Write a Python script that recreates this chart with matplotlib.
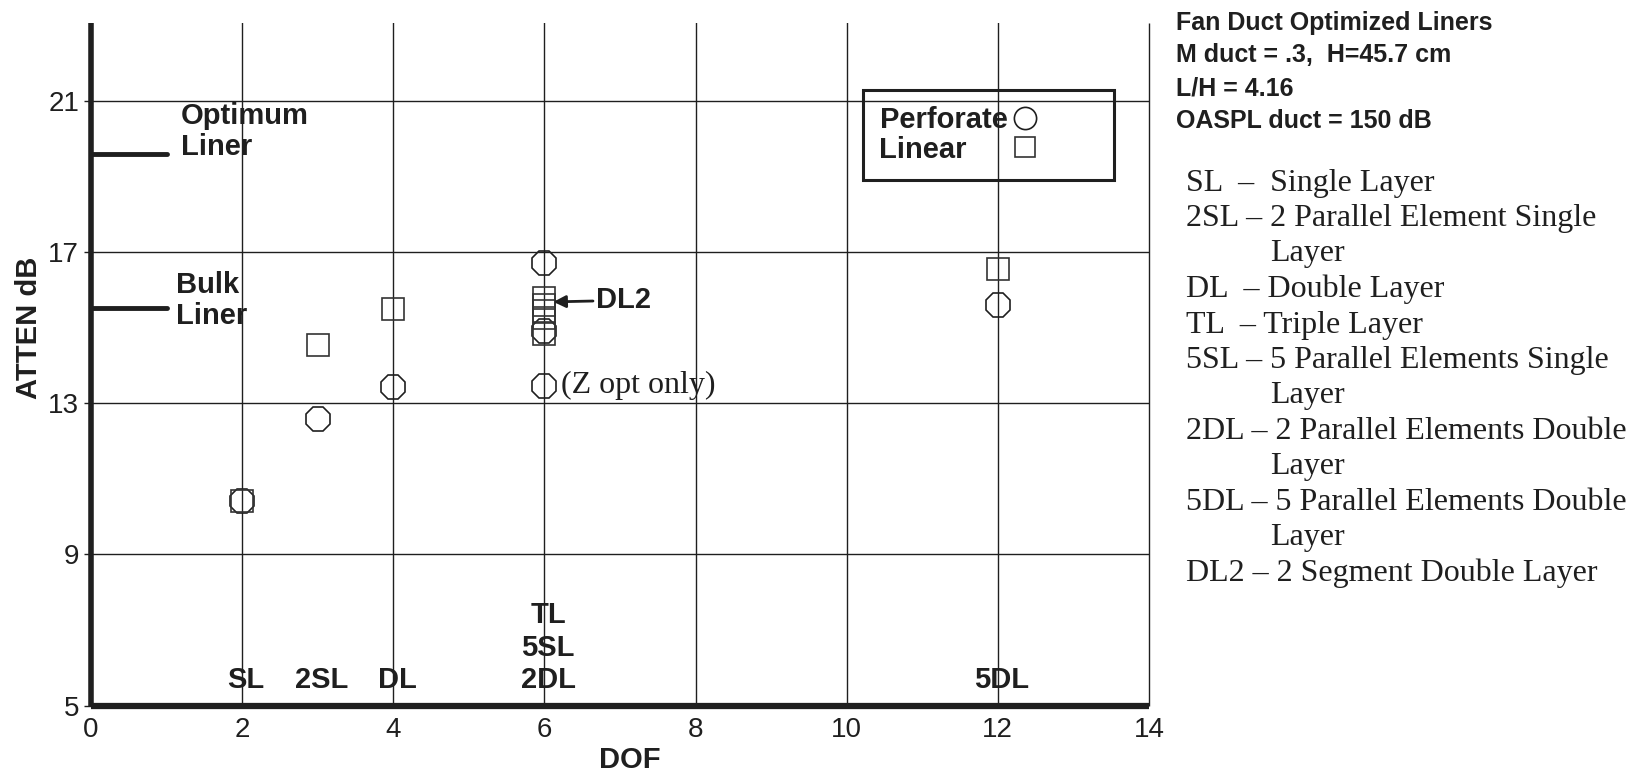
import matplotlib
matplotlib.use("Agg")
import matplotlib.pyplot as plt
from matplotlib.lines import Line2D
from matplotlib.patches import Rectangle

# data
perf_dof = [2, 3, 4, 6, 6, 6, 12]
perf_atten = [10.42, 12.57, 13.43, 16.72, 14.92, 13.46, 15.61]
lin_dof = [2, 3, 4, 6, 6, 6, 6, 6, 12]
lin_atten = [10.42, 14.53, 15.50, 15.77, 15.61, 15.43, 15.25, 14.82, 16.55]

optimum_liner = 19.59
bulk_liner = 15.53

config_names = ["SL", "2SL", "DL", "TL\n5SL\n2DL", "5DL"]
config_dof = [2, 3, 4, 6, 12]

title_lines = ["Fan Duct Optimized Liners",
               "M duct = .3,  H=45.7 cm",
               "L/H = 4.16",
               "OASPL duct = 150 dB"]
key_lines = [("SL  \u2013  Single Layer", 0),
             ("2SL \u2013 2 Parallel Element Single", 0),
             ("Layer", 1),
             ("DL  \u2013 Double Layer", 0),
             ("TL  \u2013 Triple Layer", 0),
             ("5SL \u2013 5 Parallel Elements Single", 0),
             ("Layer", 1),
             ("2DL \u2013 2 Parallel Elements Double", 0),
             ("Layer", 1),
             ("5DL \u2013 5 Parallel Elements Double", 0),
             ("Layer", 1),
             ("DL2 \u2013 2 Segment Double Layer", 0)]

sans = "Liberation Sans"
serif = "Liberation Serif"
ink = "#1f1f1f"
bold_size = 21

fig = plt.figure(figsize=(16.39, 7.75), dpi=100)
ax = fig.add_axes([0.0555, 0.0895, 0.6455, 0.8805])

ax.set_xlim(0, 14)
ax.set_ylim(5, 23.05)
ax.set_xticks(range(0, 15, 2))
ax.set_yticks([5, 9, 13, 17, 21])
ax.tick_params(axis="both", labelsize=20, colors=ink, length=5, width=1)
ax.tick_params(axis="x", length=0, pad=8)
for lab in ax.get_xticklabels() + ax.get_yticklabels():
    lab.set_fontfamily(sans)

# grid lines
for g in [2, 4, 6, 8, 10, 12]:
    ax.axvline(g, color=ink, lw=1, zorder=1)
for g in [9, 13, 17, 21]:
    ax.axhline(g, color=ink, lw=1, zorder=1)

ax.spines["top"].set_visible(False)
ax.spines["right"].set_linewidth(1)
ax.spines["left"].set_linewidth(4)
ax.spines["bottom"].set_linewidth(4.5)
for s in ax.spines.values():
    s.set_color(ink)
    s.set_capstyle("butt")

ax.plot(perf_dof, perf_atten, ls="none", marker="8", ms=18.5, mfc="none",
        mec=ink, mew=1.2, zorder=3)
ax.plot(lin_dof, lin_atten, ls="none", marker="s", ms=16, mfc="none",
        mec="#333333", mew=1.2, zorder=3)

# reference liners
ax.plot([0, 1.0], [optimum_liner, optimum_liner], color=ink, lw=3.5,
        solid_capstyle="round", zorder=4)
ax.plot([0, 1.0], [bulk_liner, bulk_liner], color=ink, lw=3.5,
        solid_capstyle="round", zorder=4)
ax.text(1.19, 20.18, "Optimum\nLiner", fontsize=bold_size,
        fontweight="bold", family=sans, va="center", ha="left",
        color=ink, linespacing=1.15)
ax.text(1.12, 15.71, "Bulk\nLiner", fontsize=bold_size,
        fontweight="bold", family=sans, va="center", ha="left",
        color=ink, linespacing=1.15)

for name, d in zip(config_names, config_dof):
    ax.text(d + 0.05, 5.3, name, fontsize=bold_size, fontweight="bold",
            family=sans, ha="center", va="bottom", color=ink,
            linespacing=1.2)

ax.annotate("DL2", xy=(6.12, 15.68), xytext=(6.68, 15.72),
            fontsize=bold_size, fontweight="bold", family=sans,
            va="center", ha="left", color=ink,
            arrowprops=dict(arrowstyle="-|>", color=ink, lw=2,
                            mutation_scale=18, shrinkA=0, shrinkB=0))
ax.text(6.22, 13.46, "(Z opt only)", fontsize=23, family=serif,
        va="center", ha="left", color=ink)

ax.set_xlabel("DOF", fontsize=bold_size, fontweight="bold", family=sans,
              color=ink)
ax.set_ylabel("ATTEN dB", fontsize=bold_size, fontweight="bold", family=sans,
              color=ink)
ax.xaxis.set_label_coords(0.509, -0.059)
ax.yaxis.set_label_coords(-0.045, 0.553)

# legend, with a wider box drawn behind it
ax.add_patch(Rectangle((0.730, 0.770), 0.237, 0.132, transform=ax.transAxes,
                       facecolor="none", edgecolor=ink, lw=2.2, zorder=5))
handles = [Line2D([], [], ls="none", marker="o", ms=16, mfc="none",
                  mec=ink, mew=1.2),
           Line2D([], [], ls="none", marker="s", ms=15, mfc="none",
                  mec="#333333", mew=1.2)]
leg = ax.legend(handles, ["Perforate", "Linear" + " " * 5], loc="upper left",
                bbox_to_anchor=(0.730, 0.902), borderaxespad=0,
                markerfirst=False, frameon=False,
                borderpad=0.55, handletextpad=0.0, handlelength=1.2,
                labelspacing=0.05,
                prop={"family": sans, "weight": "bold", "size": bold_size})
for t in leg.get_texts():
    t.set_color(ink)
leg.set_zorder(5)

# description block on the right
for i, t in enumerate(title_lines):
    fig.text(0.7175, 1 - (23 + i * 32.5) / 775, t, fontsize=18,
             fontweight="bold", family=sans, va="center", ha="left",
             color=ink)
for i, (t, indent) in enumerate(key_lines):
    x = 1186 if indent == 0 else 1270
    fig.text(x / 1639, 1 - (183 + i * 35.5) / 775, t, fontsize=23,
             family=serif, va="center", ha="left", color=ink)

fig.savefig("out.png", dpi=100)
